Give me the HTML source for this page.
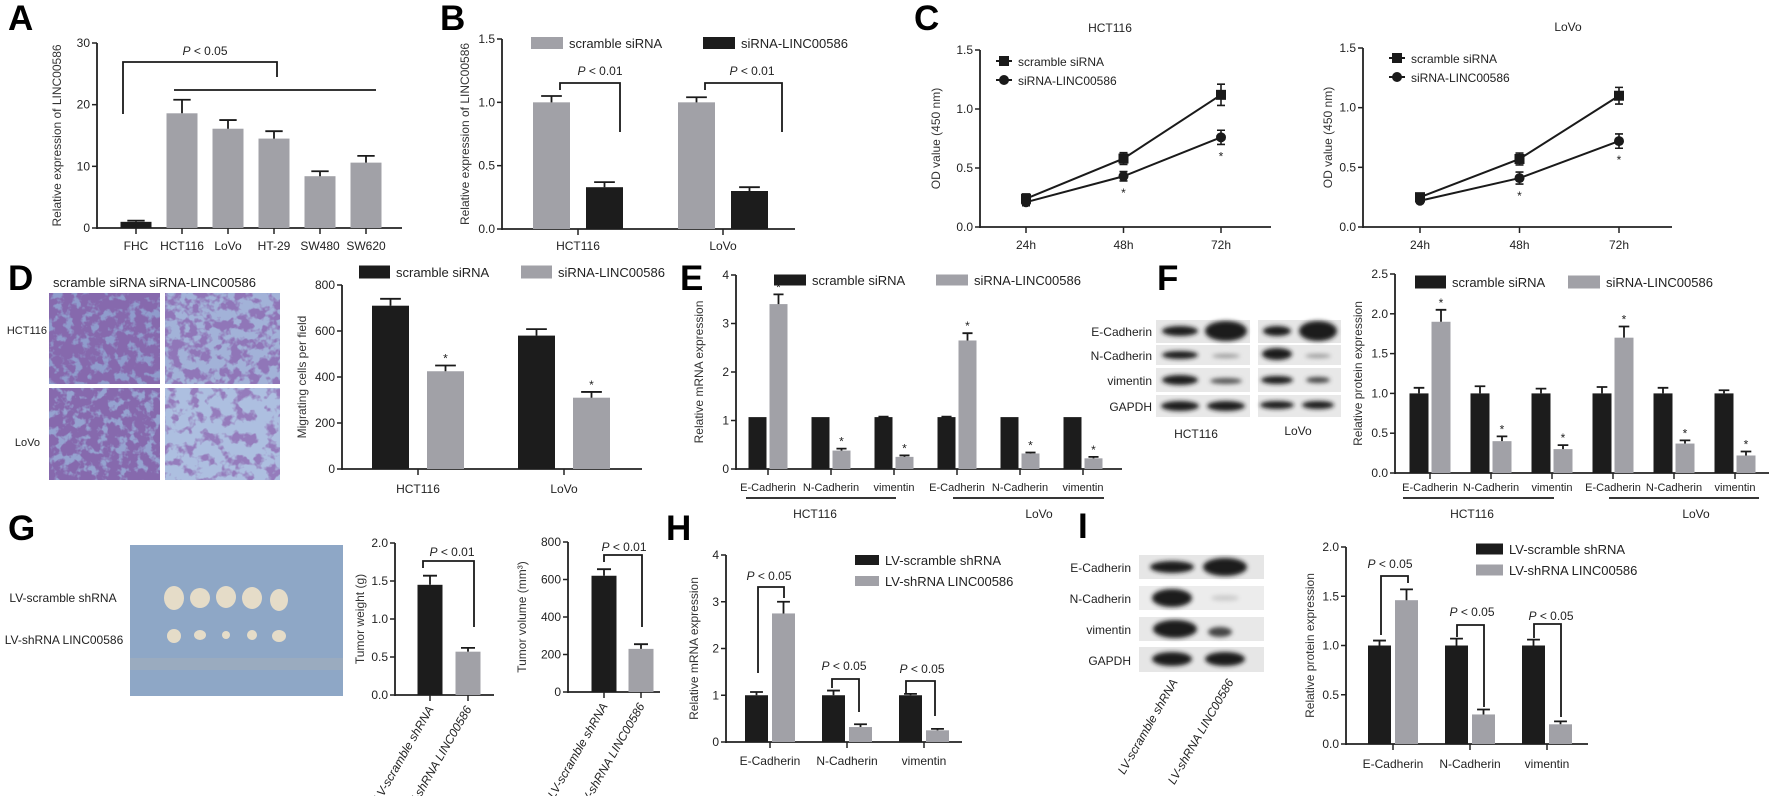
<!DOCTYPE html>
<html><head><meta charset="utf-8"><style>
html,body{margin:0;padding:0;background:#fff;}
svg{display:block;}
text{font-family:"Liberation Sans Narrow","Liberation Sans",sans-serif;fill:#222;}
.t{font-size:12px;}
.s{font-size:11px;}
.ttl{font-family:"Liberation Sans",sans-serif;font-size:12px;fill:#333;}
.lt{font-family:"Liberation Sans",sans-serif;font-weight:bold;font-size:35px;fill:#000;}
</style></head><body>
<svg id="fig" width="1772" height="796" viewBox="0 0 1772 796" xmlns="http://www.w3.org/2000/svg">
<defs>
<filter id="cellsDense" x="0" y="0" width="1" height="1"><feTurbulence type="fractalNoise" baseFrequency="0.11" numOctaves="3" seed="3"/><feColorMatrix values="0 0 0 0 0.24 0 0 0 0 0.14 0 0 0 0 0.42 6 0 0 0 -2.0"/></filter>
<filter id="cellsSparse" x="0" y="0" width="1" height="1"><feTurbulence type="fractalNoise" baseFrequency="0.09" numOctaves="3" seed="7"/><feColorMatrix values="0 0 0 0 0.3 0 0 0 0 0.2 0 0 0 0 0.5 6 0 0 0 -3.0"/></filter>
<filter id="cellsMid" x="0" y="0" width="1" height="1"><feTurbulence type="fractalNoise" baseFrequency="0.1" numOctaves="3" seed="11"/><feColorMatrix values="0 0 0 0 0.28 0 0 0 0 0.18 0 0 0 0 0.48 6 0 0 0 -2.6"/></filter>
<filter id="blur2"><feGaussianBlur stdDeviation="2"/></filter>
</defs>
<text class="lt" x="8" y="30">A</text>
<text class="lt" x="440" y="30">B</text>
<text class="lt" x="914" y="30">C</text>
<text class="lt" x="8" y="290">D</text>
<text class="lt" x="680" y="290">E</text>
<text class="lt" x="1157" y="290">F</text>
<text class="lt" x="8" y="540">G</text>
<text class="lt" x="666" y="540">H</text>
<text class="lt" x="1078" y="538">I</text>

<g>
<text class="t" x="53" y="287" style="font-size:13px">scramble siRNA siRNA-LINC00586</text>
<text class="s" x="47" y="334" text-anchor="end">HCT116</text>
<text class="s" x="40" y="446" text-anchor="end">LoVo</text>
<rect x="49" y="293" width="111" height="91" fill="#8f9ccc"/>
<rect x="49" y="293" width="111" height="91" filter="url(#cellsDense)"/>
<rect x="165" y="293" width="115" height="91" fill="#a2b2d8"/>
<rect x="165" y="293" width="115" height="91" filter="url(#cellsMid)"/>
<rect x="49" y="388" width="111" height="92" fill="#95a3d0"/>
<rect x="49" y="388" width="111" height="92" filter="url(#cellsDense)"/>
<rect x="165" y="388" width="115" height="92" fill="#adbfe0"/>
<rect x="165" y="388" width="115" height="92" filter="url(#cellsSparse)"/>
</g>

<g>
<text class="t" x="63" y="602" text-anchor="middle">LV-scramble shRNA</text>
<text class="t" x="64" y="644" text-anchor="middle">LV-shRNA LINC00586</text>
<rect x="130" y="545" width="213" height="151" fill="#8ea7c6"/>
<rect x="130" y="658" width="213" height="12" fill="#9aabbf"/>
<g fill="#e5dcc8">
<ellipse cx="174" cy="598" rx="10" ry="12"/><ellipse cx="200" cy="598" rx="10" ry="10"/><ellipse cx="226" cy="597" rx="10" ry="11"/><ellipse cx="252" cy="598" rx="10" ry="11"/><ellipse cx="279" cy="600" rx="9" ry="11"/>
<ellipse cx="174" cy="636" rx="7" ry="7"/><ellipse cx="200" cy="635" rx="6" ry="5"/><ellipse cx="226" cy="635" rx="4" ry="4"/><ellipse cx="252" cy="635" rx="5" ry="5"/><ellipse cx="279" cy="636" rx="7" ry="6"/>
</g>
</g>

<g>
<rect x="1156" y="320" width="94" height="23" fill="#e6e6e6"/><rect x="1258" y="320" width="83" height="23" fill="#e6e6e6"/>
<rect x="1156" y="345" width="94" height="20" fill="#e8e8e8"/><rect x="1258" y="345" width="83" height="20" fill="#e8e8e8"/>
<rect x="1156" y="368" width="94" height="24" fill="#e8e8e8"/><rect x="1258" y="368" width="83" height="24" fill="#e8e8e8"/>
<rect x="1156" y="395" width="94" height="22" fill="#e8e8e8"/><rect x="1258" y="395" width="83" height="22" fill="#e8e8e8"/>
<g fill="#1a1a1a" filter="url(#blur2)">
<ellipse cx="1180" cy="331" rx="18" ry="5"/><ellipse cx="1226" cy="331" rx="21" ry="10"/><ellipse cx="1277" cy="331" rx="14" ry="5"/><ellipse cx="1318" cy="331" rx="19" ry="10"/>
<ellipse cx="1180" cy="355" rx="18" ry="4"/><ellipse cx="1226" cy="356" rx="14" ry="2" fill="#999"/><ellipse cx="1277" cy="354" rx="15" ry="6"/><ellipse cx="1318" cy="356" rx="13" ry="2" fill="#999"/>
<ellipse cx="1180" cy="380" rx="18" ry="5"/><ellipse cx="1226" cy="381" rx="16" ry="3" fill="#555"/><ellipse cx="1277" cy="380" rx="16" ry="4"/><ellipse cx="1318" cy="380" rx="12" ry="3" fill="#444"/>
<ellipse cx="1180" cy="406" rx="19" ry="5"/><ellipse cx="1226" cy="406" rx="19" ry="5"/><ellipse cx="1277" cy="405" rx="17" ry="4"/><ellipse cx="1318" cy="405" rx="16" ry="4"/>
</g>
<text class="t" x="1152" y="336" text-anchor="end">E-Cadherin</text>
<text class="t" x="1152" y="360" text-anchor="end">N-Cadherin</text>
<text class="t" x="1152" y="385" text-anchor="end">vimentin</text>
<text class="t" x="1152" y="411" text-anchor="end">GAPDH</text>
<text class="t" x="1196" y="438" text-anchor="middle">HCT116</text>
<text class="t" x="1298" y="435" text-anchor="middle">LoVo</text>
</g>

<g>
<rect x="1139" y="555" width="125" height="24" fill="#e6e6e6"/>
<rect x="1139" y="586" width="125" height="24" fill="#ececec"/>
<rect x="1139" y="617" width="125" height="24" fill="#e8e8e8"/>
<rect x="1139" y="647" width="125" height="25" fill="#e6e6e6"/>
<g fill="#1a1a1a" filter="url(#blur2)">
<ellipse cx="1172" cy="567" rx="22" ry="6"/><ellipse cx="1225" cy="567" rx="22" ry="9"/>
<ellipse cx="1172" cy="598" rx="20" ry="9"/><ellipse cx="1225" cy="598" rx="14" ry="3" fill="#ccc"/>
<ellipse cx="1175" cy="629" rx="22" ry="9"/><ellipse cx="1220" cy="632" rx="12" ry="5" fill="#444"/>
<ellipse cx="1172" cy="659" rx="20" ry="7"/><ellipse cx="1225" cy="659" rx="20" ry="7"/>
</g>
<text class="t" x="1131" y="572" text-anchor="end">E-Cadherin</text>
<text class="t" x="1131" y="603" text-anchor="end">N-Cadherin</text>
<text class="t" x="1131" y="634" text-anchor="end">vimentin</text>
<text class="t" x="1131" y="665" text-anchor="end">GAPDH</text>
<text class="t" transform="translate(1178,682) rotate(-60)" text-anchor="end" style="font-style:italic">LV-scramble shRNA</text>
<text class="t" transform="translate(1234,682) rotate(-60)" text-anchor="end" style="font-style:italic">LV-shRNA LINC00586</text>
</g>
</svg>
<script>
const aCats=['FHC','HCT116','LoVo','HT-29','SW480','SW620'];
const aVals=[1,18.6,16.1,14.5,8.4,10.6];
const aErr=[0.2,2.2,1.4,1.2,0.8,1.1];
const bCats=['HCT116','LoVo'];
const bScr=[1.0,1.0];const bScrErr=[0.05,0.04];
const bSi=[0.33,0.30];const bSiErr=[0.04,0.03];
const cTimes=['24h','48h','72h'];
const cHctScr=[0.24,0.58,1.12];const cHctScrErr=[0.04,0.05,0.09];
const cHctSi=[0.21,0.43,0.76];const cHctSiErr=[0.03,0.04,0.06];
const cLoScr=[0.25,0.57,1.10];const cLoScrErr=[0.03,0.05,0.07];
const cLoSi=[0.22,0.41,0.72];const cLoSiErr=[0.02,0.05,0.06];
const dCats=['HCT116','LoVo'];
const dScr=[710,580];const dScrErr=[30,28];
const dSi=[425,310];const dSiErr=[25,25];
const eCats=['E-Cadherin','N-Cadherin','vimentin','E-Cadherin','N-Cadherin','vimentin'];
const eScr=[1.07,1.07,1.07,1.07,1.07,1.07];const eScrErr=[0,0,0.01,0.01,0,0];
const eSi=[3.4,0.38,0.25,2.65,0.32,0.22];const eSiErr=[0.2,0.04,0.03,0.15,0.02,0.03];
const fScr=[1,1,1,1,1,1];const fScrErr=[0.07,0.09,0.06,0.08,0.07,0.04];
const fSi=[1.9,0.4,0.3,1.7,0.37,0.22];const fSiErr=[0.15,0.06,0.05,0.14,0.04,0.05];
const gCats=['LV-scramble shRNA','LV-shRNA LINC00586'];
const gWeight=[1.45,0.57];const gWeightErr=[0.12,0.05];
const gVol=[620,230];const gVolErr=[35,25];
const hCats=['E-Cadherin','N-Cadherin','vimentin'];
const hScr=[1,1,1];const hScrErr=[0.07,0.1,0.03];
const hSi=[2.75,0.32,0.25];const hSiErr=[0.25,0.06,0.03];
const iScr=[1,1,1];const iScrErr=[0.05,0.07,0.06];
const iSi=[1.46,0.3,0.2];const iSiErr=[0.11,0.05,0.03];
const aTicks=[0,10,20,30];const bTicks=[0,0.5,1.0,1.5];const cTicks=[0,0.5,1.0,1.5];
const dTicks=[0,200,400,600,800];const eTicks=[0,1,2,3,4];const fTicks=[0,0.5,1.0,1.5,2.0,2.5];
const gwTicks=[0,0.5,1.0,1.5,2.0];const gvTicks=[0,200,400,600,800];const hTicks=[0,1,2,3,4];const iTicks=[0,0.5,1.0,1.5,2.0];

const BLK='#1c1c1c',GRY='#a1a1a7';
const NS='http://www.w3.org/2000/svg';
const svg=document.getElementById('fig');
function el(tag,attrs,parent){const e=document.createElementNS(NS,tag);for(const k in attrs)e.setAttribute(k,attrs[k]);(parent||svg).appendChild(e);return e;}
function tx(x,y,s,cls,parent,extra){const t=el('text',Object.assign({x:x,y:y,class:cls||'t'},extra||{}),parent);t.textContent=s;return t;}

function barChart(o){
  const g=el('g',{});
  
  
  const ys=v=>o.y0-(v/o.max)*(o.y0-o.yTop);
  const xs=i=>o.c0+i*o.step;
  const ya=el('line',{x1:o.x0,y1:o.yTop,x2:o.x0,y2:o.y0+1,stroke:'#222','stroke-width':1.8},g);
  
  
  o.ticks.forEach(v=>{
    const tl=el('line',{x1:o.x0-5,y1:ys(v),x2:o.x0,y2:ys(v),stroke:'#222','stroke-width':1.5},g);
    
    
    const lb=tx(o.x0-7,ys(v)+4,o.fmt?o.fmt(v):String(v),'t',g,{'text-anchor':'end'});
    
    
  });
  const xa=el('line',{x1:o.x0,y1:o.y0,x2:o.xEnd,y2:o.y0,stroke:'#222','stroke-width':1.8},g);
  
  
  const n=o.series.length;
  o.cats.forEach((c,i)=>{
    const tk=el('line',{x1:xs(i),y1:o.y0,x2:xs(i),y2:o.y0+6,stroke:'#222','stroke-width':1.5},g);
    
    
    if(o.rotLabels){
      const lb=tx(0,0,c,'t',g,{'text-anchor':'end',transform:'translate('+(xs(i)+4)+','+(o.y0+14)+') rotate(-60)','font-style':'italic'});
      
      
    } else if(o.catY){
      const lb=tx(xs(i),o.catY,c,o.catCls||'t',g,{'text-anchor':'middle'});
      
      
    }
  });
  o.series.forEach((s,si)=>{
    const off=(si-(n-1)/2)*(o.barW+o.gap);
    s.vals.forEach((v,i)=>{
      const cx=xs(i)+off;
      const col=s.colors?s.colors[i]:s.color;
      const r=el('rect',{x:cx-o.barW/2,y:ys(v),width:o.barW,height:o.y0-ys(v),fill:col},g);
      
      
      const e=s.errs[i];
      if(e>0){
        const eb=el('path',{d:'M'+cx+' '+ys(v)+'V'+ys(v+e)+'M'+(cx-o.barW*0.28)+' '+ys(v+e)+'H'+(cx+o.barW*0.28),stroke:'#1a1a1a','stroke-width':1.8,fill:'none'},g);
        
        
      }
      if(s.star&&s.star[i]){
        const st=tx(cx,ys(v+e)-3,'*','t',g,{'text-anchor':'middle'});
        
        
      }
    });
  });
  const yt=tx(0,0,o.yTitle,'ttl',g,{'text-anchor':'middle',transform:'translate('+o.ytx+','+((o.yTop+o.y0)/2)+') rotate(-90)'});
  
  
}
function fmt1(v){return v.toFixed(1);}
const allStar=[1,1,1,1,1,1];

barChart({name:'chart-a',x0:97,y0:228,yTop:43,max:30,ticks:aTicks,xEnd:402,c0:136,step:46,barW:31,gap:0,cats:aCats,catY:250,ytx:61,yTitle:'Relative expression of LINC00586',
  series:[{key:'a',vals:aVals,errs:aErr,colors:[BLK,GRY,GRY,GRY,GRY,GRY]}]});
barChart({name:'chart-b',x0:502,y0:229,yTop:39,max:1.5,ticks:bTicks,fmt:fmt1,xEnd:795,c0:578,step:145,barW:37,gap:16,cats:bCats,catY:250,ytx:469,yTitle:'Relative expression of LINC00586',
  series:[{key:'scramble',vals:bScr,errs:bScrErr,color:GRY},{key:'sirna',vals:bSi,errs:bSiErr,color:BLK}]});
barChart({name:'chart-d',x0:342,y0:469,yTop:285,max:800,ticks:dTicks,xEnd:642,c0:418,step:146,barW:37,gap:18,cats:dCats,catY:493,ytx:306,yTitle:'Migrating cells per field',
  series:[{key:'scramble',vals:dScr,errs:dScrErr,color:BLK},{key:'sirna',vals:dSi,errs:dSiErr,color:GRY,star:[1,1]}]});
barChart({name:'chart-e',x0:736,y0:469,yTop:275,max:4,ticks:eTicks,xEnd:1122,c0:768,step:63,barW:18,gap:3,cats:eCats,catY:491,catCls:'s',ytx:703,yTitle:'Relative mRNA expression',
  series:[{key:'scramble',vals:eScr,errs:eScrErr,color:BLK},{key:'sirna',vals:eSi,errs:eSiErr,color:GRY,star:allStar}]});
barChart({name:'chart-f',x0:1395,y0:473,yTop:274,max:2.5,ticks:fTicks,fmt:fmt1,xEnd:1769,c0:1430,step:61,barW:19,gap:3,cats:eCats,catY:491,catCls:'s',ytx:1362,yTitle:'Relative protein expression',
  series:[{key:'scramble',vals:fScr,errs:fScrErr,color:BLK},{key:'sirna',vals:fSi,errs:fSiErr,color:GRY,star:allStar}]});
barChart({name:'chart-g-weight',x0:395,y0:695,yTop:543,max:2.0,ticks:gwTicks,fmt:fmt1,xEnd:494,c0:430,step:38,barW:25,gap:0,cats:gCats,rotLabels:true,ytx:364,yTitle:'Tumor weight (g)',
  series:[{key:'weight',vals:gWeight,errs:gWeightErr,colors:[BLK,GRY]}]});
barChart({name:'chart-g-volume',x0:568,y0:692,yTop:542,max:800,ticks:gvTicks,xEnd:660,c0:604,step:37,barW:25,gap:0,cats:gCats,rotLabels:true,ytx:526,yTitle:'Tumor volume (mm³)',
  series:[{key:'volume',vals:gVol,errs:gVolErr,colors:[BLK,GRY]}]});
barChart({name:'chart-h',x0:726,y0:742,yTop:555,max:4,ticks:hTicks,xEnd:962,c0:770,step:77,barW:23,gap:4,cats:hCats,catY:765,ytx:698,yTitle:'Relative mRNA expression',
  series:[{key:'scramble',vals:hScr,errs:hScrErr,color:BLK},{key:'shrna',vals:hSi,errs:hSiErr,color:GRY}]});
barChart({name:'chart-i',x0:1346,y0:744,yTop:547,max:2.0,ticks:iTicks,fmt:fmt1,xEnd:1588,c0:1393,step:77,barW:23,gap:4,cats:hCats,catY:768,ytx:1314,yTitle:'Relative protein expression',
  series:[{key:'scramble',vals:iScr,errs:iScrErr,color:BLK},{key:'shrna',vals:iSi,errs:iSiErr,color:GRY}]});

function lineChart(o){
  const g=el('g',{});
  
  
  const ys=v=>o.y0-(v/1.5)*(o.y0-o.yTop);
  const xs=i=>o.c0+i*o.step;
  const ya=el('line',{x1:o.x0,y1:o.yTop,x2:o.x0,y2:o.y0+1,stroke:'#222','stroke-width':1.8},g);
  
  
  cTicks.forEach(v=>{
    const tl=el('line',{x1:o.x0-5,y1:ys(v),x2:o.x0,y2:ys(v),stroke:'#222','stroke-width':1.5},g);
    
    
    const lb=tx(o.x0-7,ys(v)+4,v.toFixed(1),'t',g,{'text-anchor':'end'});
    
    
  });
  const xa=el('line',{x1:o.x0,y1:o.y0,x2:o.xEnd,y2:o.y0,stroke:'#222','stroke-width':1.8},g);
  
  
  cTimes.forEach((c,i)=>{
    const tk=el('line',{x1:xs(i),y1:o.y0,x2:xs(i),y2:o.y0+6,stroke:'#222','stroke-width':1.5},g);
    
    
    const lb=tx(xs(i),o.y0+22,c,'t',g,{'text-anchor':'middle'});
    
    
  });
  o.series.forEach(s=>{
    const pl=el('polyline',{points:s.vals.map((v,i)=>xs(i)+','+ys(v)).join(' '),fill:'none',stroke:'#1a1a1a','stroke-width':2},g);
    
    
    s.vals.forEach((v,i)=>{
      const e=s.errs[i];
      const eb=el('path',{d:'M'+xs(i)+' '+ys(v-e)+'V'+ys(v+e)+'M'+(xs(i)-4)+' '+ys(v+e)+'H'+(xs(i)+4)+'M'+(xs(i)-4)+' '+ys(v-e)+'H'+(xs(i)+4),stroke:'#1a1a1a','stroke-width':1.6,fill:'none'},g);
      
      
      let m;
      if(s.shape==='sq') m=el('rect',{x:xs(i)-5,y:ys(v)-5,width:10,height:10,fill:'#1a1a1a'},g);
      else m=el('circle',{cx:xs(i),cy:ys(v),r:5,fill:'#1a1a1a'},g);
      
      
      if(s.star&&i>0){
        const st=tx(xs(i),ys(v-e)+16,'*','t',g,{'text-anchor':'middle'});
        
        
      }
    });
  });
  const tt=tx(o.titleX,o.titleY,o.title,'t',g,{'text-anchor':'middle'});
  
  
  const yt=tx(0,0,'OD value (450 nm)','ttl',g,{'text-anchor':'middle',transform:'translate('+o.ytx+','+((o.yTop+o.y0)/2)+') rotate(-90)'});
  
  
  const ls=el('path',{d:'M'+(o.lx-8)+' '+o.ly+'H'+(o.lx+8),stroke:'#1a1a1a','stroke-width':2},g);
  
  
  const lr=el('rect',{x:o.lx-5,y:o.ly-5,width:10,height:10,fill:'#1a1a1a'},g);
  
  
  const lt1=tx(o.lx+14,o.ly+5,'scramble siRNA','t',g);
  
  
  const ls2=el('path',{d:'M'+(o.lx-8)+' '+(o.ly+19)+'H'+(o.lx+8),stroke:'#1a1a1a','stroke-width':2},g);
  
  
  const lc=el('circle',{cx:o.lx,cy:o.ly+19,r:5,fill:'#1a1a1a'},g);
  
  
  const lt2=tx(o.lx+14,o.ly+24,'siRNA-LINC00586','t',g);
  
  
}
lineChart({name:'chart-c-hct116',x0:980,y0:227,yTop:50,xEnd:1271,c0:1026,step:97.5,title:'HCT116',titleX:1110,titleY:32,ytx:940,lx:1004,ly:61,
  series:[{key:'scramble',vals:cHctScr,errs:cHctScrErr,shape:'sq'},{key:'sirna',vals:cHctSi,errs:cHctSiErr,shape:'ci',star:true}]});
lineChart({name:'chart-c-lovo',x0:1363,y0:227,yTop:48,xEnd:1672,c0:1420,step:99.5,title:'LoVo',titleX:1568,titleY:31,ytx:1332,lx:1397,ly:58,
  series:[{key:'scramble',vals:cLoScr,errs:cLoScrErr,shape:'sq'},{key:'sirna',vals:cLoSi,errs:cLoSiErr,shape:'ci',star:true}]});

function legendBox(x,y,w,h,col,label,name){
  const r=el('rect',{x:x,y:y-h/2,width:w,height:h,fill:col});
  
  
  const t=tx(x+w+6,y+5,label,'t',svg,{style:'font-size:13px'});
  
  
}
legendBox(531,43,32,12,GRY,'scramble siRNA','legend-b-scramble');
legendBox(703,43,32,12,BLK,'siRNA-LINC00586','legend-b-sirna');
legendBox(359,272,31,13,BLK,'scramble siRNA','legend-d-scramble');
legendBox(521,272,31,13,GRY,'siRNA-LINC00586','legend-d-sirna');
legendBox(774,280,32,11,BLK,'scramble siRNA','legend-e-scramble');
legendBox(936,280,32,11,GRY,'siRNA-LINC00586','legend-e-sirna');
legendBox(1415,282,31,13,BLK,'scramble siRNA','legend-f-scramble');
legendBox(1568,282,32,13,GRY,'siRNA-LINC00586','legend-f-sirna');
legendBox(855,560,24,10,BLK,'LV-scramble shRNA','legend-h-scramble');
legendBox(855,581,24,10,GRY,'LV-shRNA LINC00586','legend-h-shrna');
legendBox(1476,549,27,11,BLK,'LV-scramble shRNA','legend-i-scramble');
legendBox(1476,570,27,11,GRY,'LV-shRNA LINC00586','legend-i-shrna');

function bracket(x1,yl,x2,yr,ytop,tx_,ty,name){
  const p=el('path',{d:'M'+x1+' '+yl+'V'+ytop+'H'+x2+'V'+yr,stroke:'#1a1a1a','stroke-width':1.8,fill:'none'});
  
  
  const t=el('text',{x:tx_,y:ty,class:'t','text-anchor':'middle'});
  t.innerHTML='<tspan font-style="italic">P</tspan> &lt; '+(name.indexOf('01')>=0?'0.01':'0.05');
  
  
}
bracket(123,114,277,77,62,205,55,'p-bracket-a-05');
const la=el('line',{x1:174,y1:90,x2:376,y2:90,stroke:'#1a1a1a','stroke-width':1.8});


bracket(560,90,620,132,83,600,75,'p-bracket-b1-01');
bracket(705,90,782,132,83,752,75,'p-bracket-b2-01');
bracket(423,568,474,627,561,452,556,'p-bracket-gw-01');
bracket(604,562,642,627,555,624,551,'p-bracket-gv-01');
bracket(758,673,784,598,587,769,580,'p-bracket-h1-05');
bracket(832,688,859,712,679,844,670,'p-bracket-h2-05');
bracket(906,693,935,716,681,922,673,'p-bracket-h3-05');
bracket(1381,635,1408,583,576,1390,568,'p-bracket-i1-05');
bracket(1457,637,1484,707,625,1472,616,'p-bracket-i2-05');
bracket(1534,638,1561,717,624,1551,620,'p-bracket-i3-05');

function groupLine(x1,x2,y,label,lx,ly,name){
  const l=el('line',{x1:x1,y1:y,x2:x2,y2:y,stroke:'#1a1a1a','stroke-width':1.8});
  
  
  const t=tx(lx,ly,label,'t',svg,{'text-anchor':'middle'});
  
  
}
groupLine(746,896,498,'HCT116',815,518,'group-e-hct116');
groupLine(953,1104,498,'LoVo',1039,518,'group-e-lovo');
groupLine(1403,1554,498,'HCT116',1472,518,'group-f-hct116');
groupLine(1609,1759,498,'LoVo',1696,518,'group-f-lovo');
</script>
</body></html>
